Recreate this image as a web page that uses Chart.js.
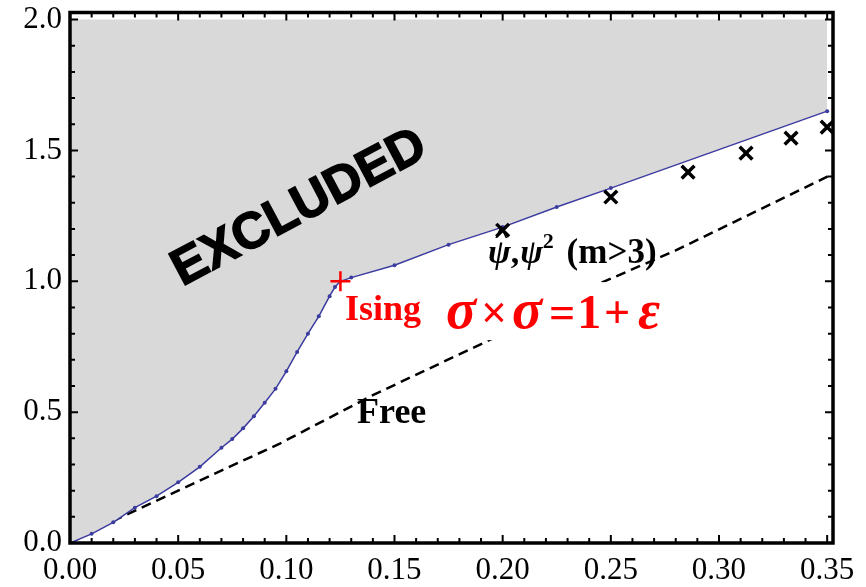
<!DOCTYPE html>
<html>
<head>
<meta charset="utf-8">
<script src="https://cdn.jsdelivr.net/npm/chart.js@4.4.0/dist/chart.umd.min.js"></script>
<style>
    html, body { margin: 0; padding: 0; background: #fff; }
    #wrap { width: 866px; height: 587px; }
</style>
</head>
<body>
<div id="wrap"><canvas id="chart"></canvas></div>
<script>
// boundary of the excluded region (blue line with dots)
const boundX = [0, 0.01, 0.02, 0.03, 0.04, 0.05, 0.06, 0.07, 0.075, 0.08, 0.085, 0.09, 0.095, 0.1, 0.105, 0.11, 0.115, 0.12, 0.1225, 0.125, 0.13, 0.15, 0.175, 0.2, 0.225, 0.25, 0.35];
const boundY = [0, 0.035, 0.079, 0.135, 0.179, 0.232, 0.291, 0.364, 0.397, 0.438, 0.484, 0.536, 0.589, 0.656, 0.730, 0.800, 0.866, 0.943, 0.978, 1.0, 1.014, 1.061, 1.140, 1.207, 1.284, 1.356, 1.650];
const excludedTop = 2.0;

// psi, psi^2 points (m>3)
const psiX = [0.2, 0.25, 0.2857, 0.3125, 0.3333, 0.35];
const psiY = [1.195, 1.322, 1.417, 1.49, 1.547, 1.589];

// free theory, dashed
const freeX = [0, 0.02, 0.05, 0.097, 0.14, 0.1956, 0.245, 0.28, 0.3514];
const freeY = [0, 0.085, 0.2, 0.38, 0.565, 0.782, 0.992, 1.118, 1.405];

// Ising point
const isingX = [0.125];
const isingY = [1.0];

// tick labels
const xTicks = [0, 0.05, 0.1, 0.15, 0.2, 0.25, 0.3, 0.35];
const yTicks = [0, 0.5, 1.0, 1.5, 2.0];

const toPts = (xs, ys) => xs.map((x, i) => ({ x: x, y: ys[i] }));

const SERIF = "'Liberation Serif', 'Times New Roman', serif";

// frame with inward ticks on all four sides
const framePlugin = {
    id: 'frame',
    afterDraw(chart) {
        const { ctx, chartArea: a, scales } = chart;
        const xs = scales.x, ys = scales.y;
        ctx.save();
        ctx.strokeStyle = '#000';
        ctx.lineWidth = 2;
        ctx.beginPath();
        for (let i = 0; i <= 35; i++) {
            const px = xs.getPixelForValue(i / 100);
            const len = (i % 5 === 0) ? 8 : 5;
            ctx.moveTo(px, a.bottom); ctx.lineTo(px, a.bottom - len);
            ctx.moveTo(px, a.top); ctx.lineTo(px, a.top + len);
        }
        for (let i = 0; i <= 20; i++) {
            const py = ys.getPixelForValue(i / 10);
            const len = (i % 5 === 0) ? 8 : 5;
            ctx.moveTo(a.left, py); ctx.lineTo(a.left + len, py);
            ctx.moveTo(a.right, py); ctx.lineTo(a.right - len, py);
        }
        ctx.stroke();
        ctx.lineWidth = 3.5;
        ctx.strokeRect(a.left, a.top, a.right - a.left, a.bottom - a.top);
        ctx.restore();
    }
};

// text annotations
const labelPlugin = {
    id: 'labels',
    afterDatasetsDraw(chart) {
        const { ctx, scales } = chart;
        const px = v => scales.x.getPixelForValue(v);
        const py = v => scales.y.getPixelForValue(v);
        ctx.save();

        // EXCLUDED
        ctx.save();
        ctx.translate(px(0.1052), py(1.292));
        ctx.rotate(-28 * Math.PI / 180);
        ctx.font = "bold 51px 'Liberation Sans', Arial, sans-serif";
        ctx.textAlign = 'center';
        ctx.textBaseline = 'alphabetic';
        ctx.fillStyle = '#000';
        ctx.strokeStyle = '#000';
        ctx.lineWidth = 1.5;
        ctx.fillText('EXCLUDED', 0, 18);
        ctx.strokeText('EXCLUDED', 0, 18);
        ctx.restore();

        ctx.textBaseline = 'alphabetic';
        ctx.textAlign = 'left';

        // Free
        ctx.fillStyle = '#000';
        ctx.font = 'bold 36px ' + SERIF;
        ctx.fillText('Free', px(0.1327), py(0.458));

        // Ising
        ctx.fillStyle = '#f00';
        ctx.font = 'bold 36px ' + SERIF;
        ctx.fillText('Ising', px(0.1271), py(0.851));

        // sigma x sigma = 1 + epsilon, on a white box
        const fx = px(0.1711), fy = py(0.821);
        ctx.fillStyle = '#fff';
        ctx.fillRect(fx - 4, fy - 46, 232, 58);
        ctx.fillStyle = '#f00';
        ctx.textAlign = 'center';
        const glyphs = [
            ['\u03C3', 21, 'bold italic 56px '],
            ['\u00D7', 54, 'bold 46px '],
            ['\u03C3', 87, 'bold italic 56px '],
            ['=', 122, 'bold 46px '],
            ['1', 149, 'bold 48px '],
            ['+', 177, 'bold 46px '],
            ['\u03B5', 209, 'bold italic 54px ']
        ];
        glyphs.forEach(([t, dx, f]) => {
            ctx.font = f + SERIF;
            ctx.fillText(t, fx + dx, fy);
        });

        // psi-hat, psi^2 (m>3)
        ctx.fillStyle = '#000';
        ctx.textAlign = 'left';
        let x = px(0.1932);
        const y = py(1.069);
        ctx.font = 'bold italic 34px ' + SERIF;
        const wPsi = ctx.measureText('\u03C8').width;
        ctx.fillText('\u03C8', x, y);
        ctx.font = 'bold 26px ' + SERIF;
        ctx.textAlign = 'center';
        ctx.fillText('^', x + wPsi / 2 + 2, y - 20);
        ctx.textAlign = 'left';
        x += wPsi;
        ctx.font = 'bold 34px ' + SERIF;
        ctx.fillText(',', x, y);
        x += ctx.measureText(',').width + 1;
        ctx.font = 'bold italic 34px ' + SERIF;
        ctx.fillText('\u03C8', x, y);
        x += ctx.measureText('\u03C8').width;
        ctx.font = 'bold 22px ' + SERIF;
        ctx.fillText('2', x, y - 15);
        x += ctx.measureText('2').width + 4;
        ctx.font = 'bold 35px ' + SERIF;
        ctx.fillText(' (m>3)', x, y);

        ctx.restore();
    }
};

new Chart(document.getElementById('chart'), {
    type: 'scatter',
    data: {
        datasets: [
            {
                label: 'Ising',
                data: toPts(isingX, isingY),
                pointStyle: 'cross',
                pointRadius: 10,
                borderColor: '#f00',
                backgroundColor: '#f00',
                borderWidth: 2.5
            },
            {
                label: 'psi',
                data: toPts(psiX, psiY),
                pointStyle: 'crossRot',
                pointRadius: 9,
                borderColor: '#000',
                backgroundColor: '#000',
                borderWidth: 3.5
            },
            {
                label: 'bound',
                data: toPts(boundX, boundY),
                showLine: true,
                borderColor: '#3c3ca0',
                borderWidth: 1.5,
                pointRadius: 2,
                pointBackgroundColor: '#3c3ca0',
                pointBorderWidth: 0,
                backgroundColor: '#d9d9d9',
                fill: { value: excludedTop },
                tension: 0
            },
            {
                label: 'free',
                data: toPts(freeX, freeY),
                showLine: true,
                borderColor: '#000',
                borderWidth: 2.5,
                borderDash: [10, 6],
                pointRadius: 0,
                fill: false
            }
        ]
    },
    options: {
        responsive: true,
        maintainAspectRatio: false,
        animation: false,
        events: [],
        layout: { padding: { top: 12, right: 33, left: 0, bottom: 0 } },
        plugins: {
            legend: { display: false },
            tooltip: { enabled: false }
        },
        scales: {
            x: {
                type: 'linear',
                min: 0,
                max: 0.3527,
                grid: { display: false, drawTicks: false },
                border: { display: false },
                afterBuildTicks: s => { s.ticks = xTicks.map(v => ({ value: v })); },
                afterFit: s => { s.height = 44; s.paddingLeft = 0; s.paddingRight = 0; },
                ticks: {
                    color: '#000',
                    padding: 9,
                    maxRotation: 0,
                    font: { family: SERIF, size: 31 },
                    callback: v => v.toFixed(2)
                }
            },
            y: {
                type: 'linear',
                min: 0,
                max: 2.027,
                grid: { display: false, drawTicks: false },
                border: { display: false },
                afterBuildTicks: s => { s.ticks = yTicks.map(v => ({ value: v })); },
                afterFit: s => { s.width = 70; s.paddingTop = 0; s.paddingBottom = 0; },
                ticks: {
                    color: '#000',
                    padding: 8,
                    font: { family: SERIF, size: 31 },
                    callback: v => v.toFixed(1)
                }
            }
        }
    },
    plugins: [labelPlugin, framePlugin]
});
</script>
</body>
</html>
